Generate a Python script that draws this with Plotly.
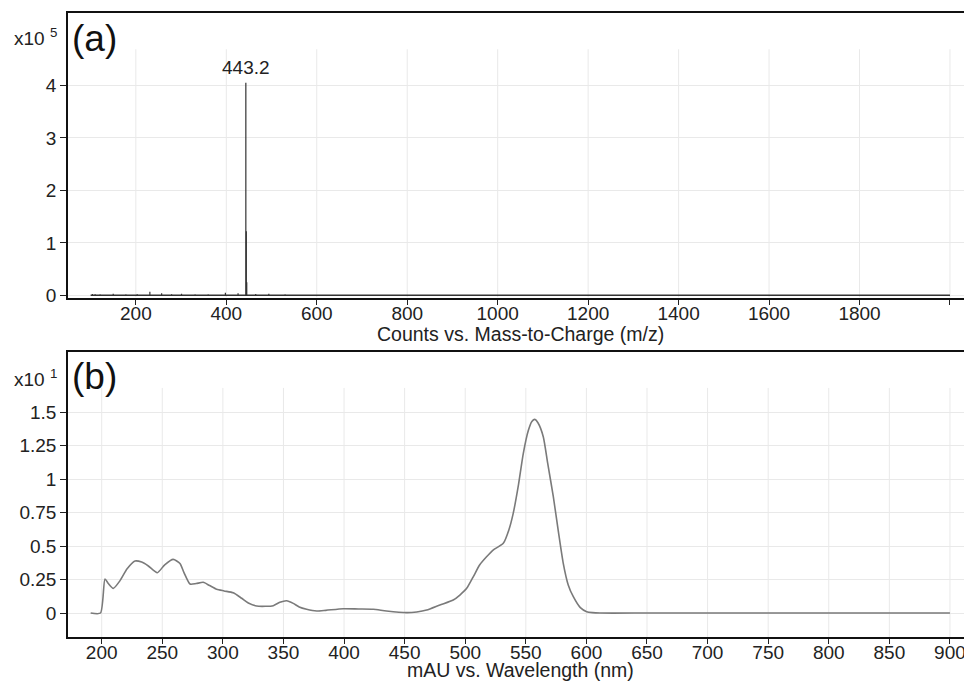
import plotly.graph_objects as go

# ---- Panel (a): mass spectrum (counts vs m/z) ----
ms_mz = [104, 110, 121, 150, 178, 203, 231, 257, 279, 301, 331, 360, 398, 426,
         443.2, 444.2, 445.2, 465, 494, 530]
ms_counts = [2500, 2000, 1500, 3000, 1500, 2000, 7000, 4000, 2000, 3000, 1500,
             1500, 5000, 4000, 405000, 122000, 25000, 2500, 3000, 1500]
baseline_mz = [100, 2000]
baseline_counts = [300, 300]
ms_xticks = [200, 400, 600, 800, 1000, 1200, 1400, 1600, 1800, 2000]
ms_xticklabels = ["200", "400", "600", "800", "1000", "1200", "1400", "1600", "1800", ""]
ms_yticks = [0, 100000, 200000, 300000, 400000]
ms_yticklabels = ["0", "1", "2", "3", "4"]
peak_label_mz = 443.2
peak_label_counts = 405000

# ---- Panel (b): UV-Vis spectrum (mAU vs wavelength) ----
wl_nm = [190.9, 199, 202.7, 205.5, 209.6, 215, 221, 227.5, 233, 238.5, 245.9, 252,
         259, 264.6, 268, 272.9, 278, 283.8, 289, 294.9, 301, 308.6, 315.5, 321,
         327.9, 335, 341.6, 347, 352.6, 358.1, 363, 369.1, 377.4, 385, 399.4, 412,
         424.1, 435, 451.6, 460, 468.2, 479.1, 490.1, 495.6, 501.2, 506.6, 512,
         517.6, 523, 531.4, 536, 539.6, 544, 547.9, 552, 555, 557.5, 560, 564.4,
         568, 572.7, 577, 580.9, 585, 589.2, 595, 600.2, 605, 611.2, 650, 700,
         800, 900]
mau = [0, 0, 2.54, 2.2, 1.84, 2.4, 3.3, 3.88, 3.8, 3.51, 3.01, 3.6,
       4.0, 3.7, 3.0, 2.16, 2.2, 2.29, 2.05, 1.77, 1.65, 1.51, 1.1, 0.75,
       0.52, 0.5, 0.55, 0.8, 0.92, 0.72, 0.45, 0.28, 0.15, 0.2, 0.32, 0.3,
       0.28, 0.15, 0.03, 0.08, 0.22, 0.6, 0.97, 1.34, 1.84, 2.7, 3.6,
       4.2, 4.7, 5.2, 6.2, 7.44, 9.6, 11.9, 13.6, 14.3, 14.45, 14.2, 13.16,
       11.2, 8.68, 6.0, 3.71, 2.1, 1.22, 0.4, 0.1, 0.03, 0, 0, 0,
       0, 0]
uv_xticks = [200, 250, 300, 350, 400, 450, 500, 550, 600, 650, 700, 750, 800, 850, 900]
uv_yticks = [0, 2.5, 5, 7.5, 10, 12.5, 15]
uv_yticklabels = ["0", "0.25", "0.5", "0.75", "1", "1.25", "1.5"]

FONT = "Liberation Sans, Arial, sans-serif"
GRID = "#e9e9e9"
H = 683.0

fig = go.Figure()

# stick spectrum
stick_x, stick_y = [], []
for m, c in zip(ms_mz, ms_counts):
    stick_x += [m, m, None]
    stick_y += [0, c, None]
fig.add_trace(go.Scatter(x=baseline_mz, y=baseline_counts, mode="lines",
                         line=dict(color="#333333", width=1.5),
                         xaxis="x", yaxis="y", showlegend=False, hoverinfo="skip"))
fig.add_trace(go.Scatter(x=stick_x, y=stick_y, mode="lines",
                         line=dict(color="#333333", width=1.2),
                         xaxis="x", yaxis="y", showlegend=False))

fig.add_trace(go.Scatter(x=wl_nm, y=mau, mode="lines",
                         line=dict(color="#7a7a7a", width=1.6, shape="spline", smoothing=0.6),
                         xaxis="x2", yaxis="y2", showlegend=False))

# vertical grid lines (stop short of the top border)
shapes = []
for v in ms_xticks:
    shapes.append(dict(type="line", xref="x", yref="y", x0=v, x1=v, y0=-4000, y1=469000,
                       line=dict(color=GRID, width=1), layer="below"))
for v in uv_xticks:
    shapes.append(dict(type="line", xref="x2", yref="y2", x0=v, x1=v, y0=-1.79, y1=16.8,
                       line=dict(color=GRID, width=1), layer="below"))

tickfont = dict(family=FONT, size=19, color="#222222")


def py(pix):
    return 1 - pix / H


xcommon = dict(ticks="outside", ticklen=5, tickcolor="#222", tickfont=tickfont,
               showgrid=False, zeroline=False, automargin=False,
               ticklabeloverflow="allow",
               showline=True, linecolor="#111", linewidth=2, mirror=True)
ycommon = dict(ticks="outside", ticklen=6, tickcolor="#222", tickfont=tickfont,
               showgrid=True, gridcolor=GRID, zeroline=False, automargin=False,
               showline=True, linecolor="#111", linewidth=1.5)

fig.update_layout(
    width=964, height=683,
    margin=dict(l=68, r=0, t=0, b=0),
    paper_bgcolor="white", plot_bgcolor="white",
    shapes=shapes,
    xaxis=dict(domain=[0, 1], anchor="y", range=[50, 2031], ticklabelstandoff=-7,
               tickvals=ms_xticks, ticktext=ms_xticklabels, **xcommon),
    yaxis=dict(domain=[py(297.5), py(12.5)], anchor="x", range=[-4000, 539000],
               tickvals=ms_yticks, ticktext=ms_yticklabels, **ycommon),
    xaxis2=dict(domain=[0, 1], anchor="y2", range=[172.2, 911.6], ticklabelstandoff=-8,
                tickvals=uv_xticks, **xcommon),
    yaxis2=dict(domain=[py(637), py(352)], anchor="x2", range=[-1.79, 19.48],
                tickvals=uv_yticks, ticktext=uv_yticklabels, **ycommon),
    annotations=[
        dict(x=peak_label_mz, y=peak_label_counts, xref="x", yref="y",
             text=f"{peak_label_mz:.1f}", showarrow=False, yanchor="bottom", yshift=3,
             font=dict(family=FONT, size=19, color="#222")),
        dict(x=-0.0625, y=py(37), xref="paper", yref="paper", xanchor="left",
             yanchor="middle", text="x10 <sup>5</sup>", showarrow=False,
             font=dict(family=FONT, size=19, color="#222")),
        dict(x=-0.0625, y=py(378), xref="paper", yref="paper", xanchor="left",
             yanchor="middle", text="x10 <sup>1</sup>", showarrow=False,
             font=dict(family=FONT, size=19, color="#222")),
        dict(x=0.002, y=py(39), xref="paper", yref="paper", xanchor="left",
             yanchor="middle", text="(a)", showarrow=False,
             font=dict(family=FONT, size=37, color="#111")),
        dict(x=0.002, y=py(376), xref="paper", yref="paper", xanchor="left",
             yanchor="middle", text="(b)", showarrow=False,
             font=dict(family=FONT, size=37, color="#111")),
        dict(x=0.5045, y=py(334), xref="paper", yref="paper", xanchor="center",
             yanchor="middle", text="Counts vs. Mass-to-Charge (m/z)", showarrow=False,
             font=dict(family=FONT, size=19.5, color="#222")),
        dict(x=0.5045, y=py(669.5), xref="paper", yref="paper", xanchor="center",
             yanchor="middle", text="mAU vs. Wavelength (nm)", showarrow=False,
             font=dict(family=FONT, size=19.5, color="#222")),
    ],
)

fig.write_html("out.html", config={"displayModeBar": False},
               post_script="document.body.style.margin='0';document.body.style.overflow='hidden';")
